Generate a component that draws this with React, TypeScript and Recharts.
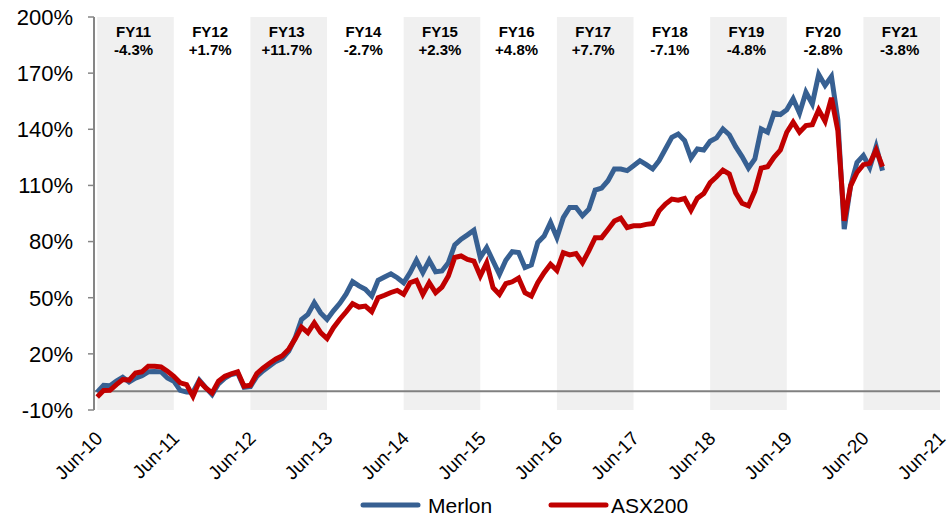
import React from 'react';
import {
  LineChart,
  Line,
  XAxis,
  YAxis,
  ReferenceArea,
  ReferenceLine,
  Legend,
} from 'recharts';

// Cumulative return (%), monthly from Jun-10 (index 0) to Sep-20
const merlon = [
  -0.5, 3.2, 3.0, 5.4, 7.5, 5.0, 7.0, 8.3, 10.4, 10.6,
  10.4, 7.1, 5.4, 0.5, -0.4, -0.5, 5.9, 2.0, -1.8, 4.0,
  7.0, 9.0, 9.8, 2.1, 2.5, 8.0, 11.0, 13.5, 16.0, 17.5,
  21.5, 28.5, 38.4, 41.1, 47.3, 41.9, 38.4, 43.0, 47.0, 52.0,
  58.6, 56.3, 54.5, 50.9, 59.3, 61.1, 62.8, 60.7, 58.0, 63.4,
  70.0, 63.4, 70.0, 63.9, 64.3, 68.7, 78.2, 81.3, 83.6, 86.1,
  71.4, 76.8, 69.6, 62.5, 70.0, 74.6, 74.1, 66.1, 67.5, 79.5,
  83.0, 90.2, 82.1, 92.8, 98.2, 98.2, 93.8, 97.3, 107.5, 108.6,
  112.5, 118.8, 118.8, 117.9, 120.5, 123.2, 121.1, 118.8, 123.2, 129.5,
  135.7, 137.5, 134.0, 124.6, 129.5, 128.9, 133.6, 135.4, 140.2, 137.1,
  130.7, 125.4, 119.3, 124.1, 140.2, 138.4, 148.6, 147.9, 150.4, 156.3,
  148.6, 159.8, 153.6, 169.3, 163.4, 168.2, 145.0, 86.6, 110.0, 122.3,
  126.0, 119.6, 130.7, 117.9,
];

const asx200 = [
  -3.0, 0.4, 0.5, 3.6, 6.3, 6.0, 9.8, 10.4, 13.4, 13.4,
  13.0, 10.7, 8.0, 4.5, 3.6, -2.7, 5.4, 1.8, -0.9, 5.4,
  8.0, 9.3, 10.4, 2.7, 3.2, 9.5, 12.5, 15.0, 17.3, 19.0,
  22.5, 28.0, 34.3, 31.3, 36.6, 31.3, 28.2, 34.0, 38.5, 42.5,
  46.8, 45.0, 45.5, 42.5, 50.0, 51.3, 52.8, 53.9, 51.8, 58.0,
  59.3, 51.8, 58.0, 52.7, 55.7, 61.6, 71.5, 72.3, 70.5, 69.6,
  61.6, 68.7, 55.3, 51.8, 57.5, 58.5, 60.5, 52.7, 50.9, 58.0,
  63.4, 67.9, 64.6, 74.1, 72.9, 73.6, 68.7, 75.0, 82.1, 82.1,
  86.5, 91.0, 92.5, 87.5, 88.4, 88.4, 89.2, 89.6, 96.4, 100.0,
  102.7, 102.1, 103.0, 96.8, 103.2, 105.7, 111.5, 114.6, 118.2, 116.1,
  106.0, 100.5, 99.1, 107.0, 119.3, 120.0, 125.0, 128.9, 138.4, 143.8,
  138.4, 142.0, 142.5, 150.4, 144.3, 156.8, 139.3, 91.1, 109.8, 116.9,
  121.1, 121.8, 128.9, 120.0,
];

const monthTicks = [0, 12, 24, 36, 48, 60, 72, 84, 96, 108, 120, 132];
const tickLabels = [
  'Jun-10', 'Jun-11', 'Jun-12', 'Jun-13', 'Jun-14', 'Jun-15',
  'Jun-16', 'Jun-17', 'Jun-18', 'Jun-19', 'Jun-20', 'Jun-21',
];
const yTicks = [-10, 20, 50, 80, 110, 140, 170, 200];

const fyNames = ['FY11', 'FY12', 'FY13', 'FY14', 'FY15', 'FY16', 'FY17', 'FY18', 'FY19', 'FY20', 'FY21'];
const fyReturns = ['-4.3%', '+1.7%', '+11.7%', '-2.7%', '+2.3%', '+4.8%', '+7.7%', '-7.1%', '-4.8%', '-2.8%', '-3.8%'];

const data = merlon.map((v, i) => ({ month: i, merlon: v, asx200: asx200[i] }));

const FONT = "'Liberation Sans', Arial, Helvetica, sans-serif";
const BLUE = '#376092';
const RED = '#C00000';
const BAND = '#F0F0F0';
const AXIS_GREY = '#868686';

const XTick = (props: any) => {
  const { x, y, payload } = props;
  const idx = monthTicks.indexOf(payload.value);
  const ax = x + 2;
  const ay = y + 25;
  return (
    <text
      x={ax}
      y={ay}
      transform={`rotate(-45 ${ax} ${ay})`}
      textAnchor="end"
      dominantBaseline="central"
      fontSize={19}
      fill="#000"
      fontFamily={FONT}
    >
      {tickLabels[idx]}
    </text>
  );
};

const fyLabel = (name: string, ret: string) => (props: any) => {
  const vb = props.viewBox || {};
  const cx = vb.x + vb.width / 2 - 2;
  return (
    <g>
      <text x={cx} y={vb.y + 20} textAnchor="middle" fontSize={15} fontWeight="bold" fill="#000" fontFamily={FONT}>
        {name}
      </text>
      <text x={cx} y={vb.y + 38} textAnchor="middle" fontSize={15} fontWeight="bold" fill="#000" fontFamily={FONT}>
        {ret}
      </text>
    </g>
  );
};

const LegendContent = () => (
  <div style={{ position: 'relative', width: 952, height: 30, fontFamily: FONT, fontSize: 21, color: '#000' }}>
    <svg width={952} height={30} style={{ position: 'absolute', left: 0, top: 0 }}>
      <line x1={363} y1={15} x2={418} y2={15} stroke={BLUE} strokeWidth={5} strokeLinecap="round" />
      <line x1={551} y1={15} x2={606} y2={15} stroke={RED} strokeWidth={5} strokeLinecap="round" />
    </svg>
    <span style={{ position: 'absolute', left: 428, top: 15, transform: 'translateY(-50%)', lineHeight: 1 }}>Merlon</span>
    <span style={{ position: 'absolute', left: 611, top: 15, transform: 'translateY(-50%)', lineHeight: 1 }}>ASX200</span>
  </div>
);

export default function App() {
  return (
    <div style={{ position: 'absolute', left: 0, top: 0, width: 952, height: 523, background: '#fff', fontFamily: FONT }}>
      <LineChart width={952} height={523} data={data} margin={{ top: 17, right: 12, bottom: 3, left: 0 }}>
        {fyNames.map((name, k) => (
          <ReferenceArea
            key={name}
            x1={k * 12}
            x2={k * 12 + 12}
            y1={-10}
            y2={200}
            fill={k % 2 === 0 ? BAND : 'none'}
            fillOpacity={1}
            stroke="none"
            label={fyLabel(name, fyReturns[k])}
          />
        ))}
        <XAxis
          type="number"
          dataKey="month"
          domain={[-0.5, 132]}
          ticks={monthTicks}
          interval={0}
          axisLine={false}
          tickLine={false}
          tickSize={0}
          tickMargin={0}
          height={80}
          tick={<XTick />}
          allowDataOverflow
        />
        <YAxis
          type="number"
          domain={[-10, 200]}
          ticks={yTicks}
          interval={0}
          width={94}
          tickFormatter={(v: number) => `${v}%`}
          tick={{ fontSize: 22, fill: '#000', fontFamily: FONT }}
          axisLine={{ stroke: AXIS_GREY, strokeWidth: 2 }}
          tickLine={{ stroke: AXIS_GREY, strokeWidth: 1.5 }}
          tickSize={6}
          tickMargin={15}
          allowDataOverflow
        />
        <ReferenceLine y={0} stroke="#808080" strokeWidth={2} />
        <Line
          type="linear"
          dataKey="merlon"
          name="Merlon"
          stroke={BLUE}
          strokeWidth={5}
          dot={false}
          isAnimationActive={false}
        />
        <Line
          type="linear"
          dataKey="asx200"
          name="ASX200"
          stroke={RED}
          strokeWidth={5}
          dot={false}
          isAnimationActive={false}
        />
        <Legend verticalAlign="bottom" content={<LegendContent />} wrapperStyle={{ left: 0, width: 952 }} />
      </LineChart>
    </div>
  );
}
